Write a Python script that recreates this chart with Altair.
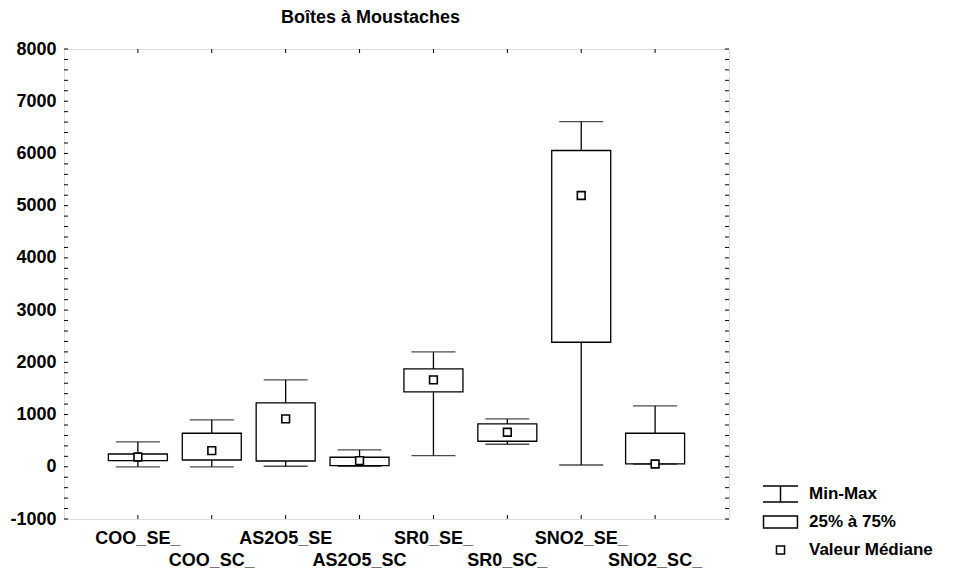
import json
import numpy as np
import pandas as pd
import altair as alt

# ---- data ----
cats = ["COO_SE_", "COO_SC_", "AS2O5_SE", "AS2O5_SC", "SR0_SE_", "SR0_SC_", "SNO2_SE_", "SNO2_SC_"]
mins = [0, 0, 10, 10, 213, 431, 34, 50]
q1s = [117, 130, 111, 21, 1433, 489, 2385, 54]
meds = [188, 308, 916, 117, 1663, 661, 5195, 54]
q3s = [245, 642, 1222, 182, 1874, 820, 6056, 642]
maxs = [475, 897, 1663, 322, 2199, 916, 6611, 1165]

legend_labels = ["Min-Max", "25% à 75%", "Valeur Médiane"]
title_text = "Boîtes à Moustaches"
y_domain = [-1000, 8000]

FONT = "Liberation Sans"
W, H = 665, 470

df = pd.DataFrame({"cat": cats, "mn": mins, "q1": q1s, "med": meds, "q3": q3s, "mx": maxs})

label_expr = (
    "indexof(" + json.dumps(cats) + ", datum.value) % 2 == 1 ? ['', datum.label] : datum.label"
)

x_enc = alt.X(
    "cat:N",
    sort=cats,
    scale=alt.Scale(paddingInner=0, paddingOuter=0.5),
    axis=alt.Axis(
        title=None, labelAngle=0, ticks=False, domain=False, labelExpr=label_expr,
        labelFontSize=18, labelFont=FONT, labelFontWeight="bold", labelColor="black",
        labelPadding=10, labelLineHeight=22, labelOverlap=False, labelBound=False,
        labelFlush=False, labelBaseline="top",
    ),
)
y_scale = alt.Scale(domain=y_domain, nice=False, zero=False)
y_axis = alt.Axis(
    title=None, values=list(range(-1000, 8001, 1000)), labelExpr="'' + datum.value",
    ticks=False, domain=False, grid=False, labelFontSize=18, labelFont=FONT,
    labelFontWeight="bold", labelColor="black", labelPadding=8,
)

base = alt.Chart(df)

whisk = base.mark_rule(color="black", strokeWidth=1.3).encode(
    x=x_enc, y=alt.Y("mn:Q", scale=y_scale, axis=y_axis), y2="mx:Q"
)
cap_lo = base.mark_tick(color="black", thickness=1.3, size=44, orient="horizontal").encode(
    x=alt.X("cat:N", sort=cats), y=alt.Y("mn:Q")
)
cap_hi = base.mark_tick(color="black", thickness=1.3, size=44, orient="horizontal").encode(
    x=alt.X("cat:N", sort=cats), y=alt.Y("mx:Q")
)
box = base.mark_bar(fill="white", stroke="black", strokeWidth=1.3, size=59).encode(
    x=alt.X("cat:N", sort=cats), y=alt.Y("q1:Q"), y2="q3:Q"
)
med = base.mark_point(shape="square", size=60, filled=True, fill="white", stroke="black",
                      strokeWidth=1.6, opacity=1).encode(
    x=alt.X("cat:N", sort=cats), y=alt.Y("med:Q")
)

# inward ticks of the frame
ytick_df = pd.DataFrame({"v": np.arange(-1000, 8001, 200)})
lt = alt.Chart(ytick_df).mark_rule(color="black", strokeWidth=1).encode(
    y=alt.Y("v:Q"), x=alt.value(0), x2=alt.value(4)
)
rt = alt.Chart(ytick_df).mark_rule(color="black", strokeWidth=1).encode(
    y=alt.Y("v:Q"), x=alt.value(W), x2=alt.value(W - 4)
)
xtick_df = pd.DataFrame({"cat": cats})
bt = alt.Chart(xtick_df).mark_rule(color="black", strokeWidth=1).encode(
    x=alt.X("cat:N", sort=cats), y=alt.value(H), y2=alt.value(H - 4)
)
tt = alt.Chart(xtick_df).mark_rule(color="black", strokeWidth=1).encode(
    x=alt.X("cat:N", sort=cats), y=alt.value(0), y2=alt.value(4)
)

# legend
leg_df = pd.DataFrame({"leg": legend_labels})
paths = [
    "M-1,-0.46H1M0,-0.46V0.46M-1,0.46H1",
    "M-0.97,-0.34H0.97V0.34H-0.97Z",
    "M-0.23,-0.23H0.23V0.23H-0.23Z",
]
leg = alt.Chart(leg_df).mark_point(filled=False, opacity=0).encode(
    shape=alt.Shape(
        "leg:N",
        scale=alt.Scale(domain=legend_labels, range=paths),
        legend=alt.Legend(
            title=None, orient="none", legendX=698, legendY=431, padding=0,
            symbolSize=1225, symbolStrokeColor="black", symbolStrokeWidth=1.5,
            symbolFillColor="white", symbolOpacity=1, labelFontSize=17, labelFont=FONT,
            labelFontWeight="bold", labelColor="black", clipHeight=28, rowPadding=0,
            labelOffset=10,
        ),
    )
)

chart = (
    alt.layer(whisk, box, cap_lo, cap_hi, med, lt, rt, bt, tt, leg)
    .properties(
        width=W, height=H,
        title=alt.TitleParams(title_text, anchor="middle", dx=-26, offset=13, fontSize=18,
                              font=FONT, fontWeight="bold", color="black"),
        autosize=alt.AutoSizeParams(type="none"),
        padding={"left": 56, "top": 41, "right": 219, "bottom": 53},
    )
    .configure_view(stroke="black", strokeWidth=1.5)
    .configure(background="white")
)

chart.save("out.html", embed_options={"renderer": "svg", "actions": False})
